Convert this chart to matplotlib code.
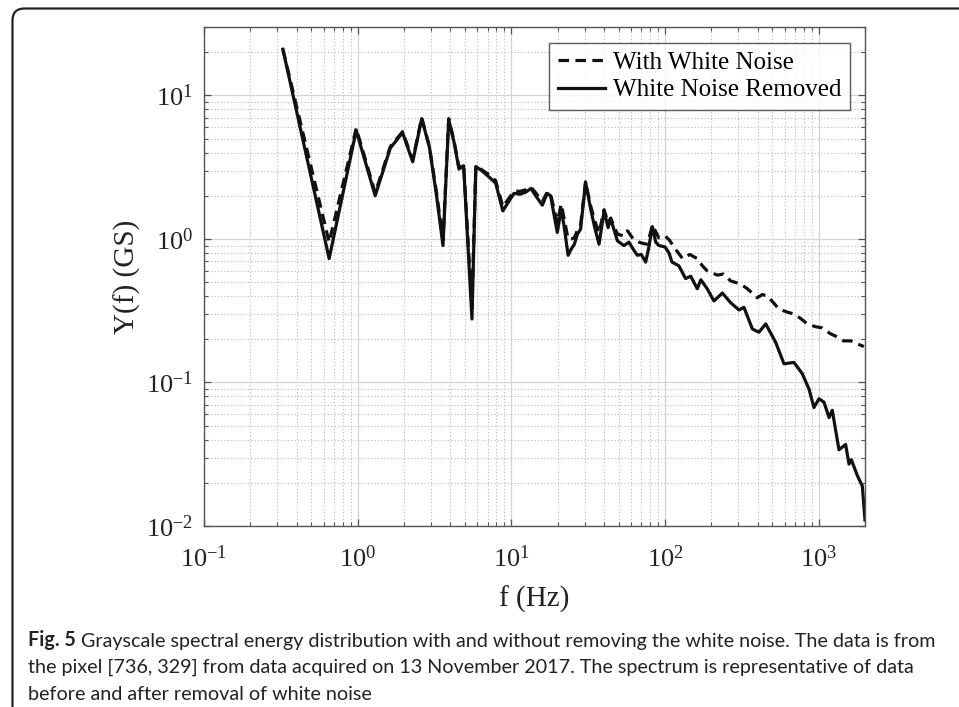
"""
Grayscale spectral energy distribution Y(f), with and without the white noise.
"""

import matplotlib
matplotlib.use("Agg")
import matplotlib.pyplot as plt
import matplotlib.ticker as ticker
from matplotlib.patches import FancyBboxPatch
from matplotlib.transforms import IdentityTransform
import numpy as np

# ── Style ───────────────────────────────────────────────────────────────────
plt.rcParams.update({
    "font.family": "Liberation Serif",
    "mathtext.fontset": "custom",
    "mathtext.rm": "Liberation Serif",
    "mathtext.it": "Liberation Serif:italic",
    "mathtext.bf": "Liberation Serif:bold",
    "axes.linewidth": 1.0,
})

# ── Spectrum, white noise removed (solid) ───────────────────────────────────
f_removed = [0.326, 0.652, 0.978, 1.30, 1.63, 1.96, 2.28, 2.61, 2.93, 3.26,
             3.59, 3.91, 4.24, 4.56, 4.89, 5.54, 5.87, 6.52, 7.17, 7.9,
             8.8, 10.4, 11.4, 12.4, 13.4, 14.4, 15.9, 17.1, 18.0, 19.9,
             21.1, 22.0, 23.4, 24.5, 25.7, 26.9, 28.2, 30.4, 32.8, 34.8,
             37.2, 40.1, 42.6, 44.3, 49, 54, 58.2, 62, 66, 70,
             74.8, 78, 82.7, 87, 91.2, 100, 106, 111, 123, 136,
             147, 162, 171, 188, 208, 236, 267, 303, 326, 370,
             408, 452, 525, 594, 690, 782, 864, 931, 1004, 1081,
             1167, 1225, 1354, 1496, 1574, 1630, 1782, 1921, 2000]
y_removed = [21.0, 0.73, 5.7, 2.0, 4.3, 5.5, 3.45, 6.9, 4.35, 2.0,
             0.90, 6.8, 4.7, 3.07, 3.24, 0.277, 3.2, 2.95, 2.7, 2.45,
             1.57, 2.08, 2.05, 2.12, 2.25, 2.0, 1.72, 2.08, 2.0, 1.11,
             1.62, 1.24, 0.77, 0.85, 0.92, 1.08, 1.17, 2.48, 1.62, 1.21,
             0.92, 1.57, 1.2, 1.38, 0.97, 0.90, 0.95, 0.85, 0.77, 0.78,
             0.69, 0.85, 1.22, 0.95, 0.90, 0.88, 0.80, 0.69, 0.65, 0.53,
             0.55, 0.45, 0.52, 0.45, 0.37, 0.42, 0.36, 0.32, 0.334, 0.236,
             0.224, 0.256, 0.19, 0.135, 0.138, 0.115, 0.090, 0.067, 0.077, 0.073,
             0.057, 0.064, 0.034, 0.037, 0.027, 0.029, 0.0225, 0.019, 0.011]

# ── Spectrum with white noise (dashed) ──────────────────────────────────────
f_noise = [0.326, 0.652, 0.978, 1.30, 1.63, 1.96, 2.28, 2.61, 2.93, 3.26,
           3.59, 3.91, 4.24, 4.56, 4.89, 5.54, 5.87, 6.52, 7.17, 7.9,
           8.8, 10.4, 11.4, 12.4, 13.4, 14.4, 15.9, 17.1, 18.0, 19.9,
           21.1, 22.0, 23.4, 24.5, 25.7, 26.9, 28.2, 30.4, 32.8, 34.8,
           37.2, 40.1, 42.6, 44.3, 49, 54, 57, 62, 67.7, 72,
           77, 82.7, 91, 100, 107, 114, 130, 145, 162, 175,
           188, 219, 240, 267, 310, 343, 398, 430, 465, 551,
           620, 690, 760, 843, 950, 1055, 1180, 1290, 1450, 1614,
           1800, 1967]
y_noise = [21.0, 0.95, 5.9, 2.1, 4.4, 5.6, 3.55, 7.0, 4.4, 2.1,
           0.98, 6.9, 4.8, 3.15, 3.3, 0.33, 3.25, 3.0, 2.8, 2.55,
           1.68, 2.15, 2.15, 2.2, 2.3, 2.1, 1.82, 2.12, 2.05, 1.3,
           1.75, 1.4, 1.0, 1.0, 1.02, 1.15, 1.25, 2.5, 1.7, 1.35,
           1.1, 1.6, 1.3, 1.4, 1.08, 1.05, 1.14, 1.0, 0.95, 0.93,
           0.92, 1.25, 1.02, 1.05, 0.98, 0.88, 0.73, 0.78, 0.73, 0.65,
           0.60, 0.56, 0.57, 0.51, 0.486, 0.45, 0.39, 0.41, 0.40, 0.325,
           0.31, 0.30, 0.28, 0.256, 0.245, 0.24, 0.22, 0.21, 0.195, 0.195,
           0.185, 0.178]

caption_bold = "Fig. 5"
caption_lines = [
    " Grayscale spectral energy distribution with and without removing the white noise. The data is from",
    "the pixel [736, 329] from data acquired on 13 November 2017. The spectrum is representative of data",
    "before and after removal of white noise",
]

W, H = 959, 707
fig = plt.figure(figsize=(W / 100, H / 100), dpi=100)
ax = fig.add_axes([204 / W, 1 - 526 / H, 661 / W, 499 / H])

ax.loglog(f_noise, y_noise, color="#111111", lw=2.3,
          linestyle=(0, (3.3, 2.0)), label="With White Noise")
ax.loglog(f_removed, y_removed, color="#111111", lw=2.3,
          label="White Noise Removed")

ax.set_xlim(0.1, 2000)
ax.set_ylim(0.01, 30)

for axis in (ax.xaxis, ax.yaxis):
    axis.set_major_locator(ticker.LogLocator(base=10, numticks=20))
    axis.set_minor_locator(ticker.LogLocator(base=10, subs=np.arange(2, 10), numticks=200))
    axis.set_minor_formatter(ticker.NullFormatter())

ax.grid(True, which="major", linestyle="-", color="#d4d4d4", lw=0.9)
ax.grid(True, which="minor", linestyle=(0, (1, 2)), color="#b8b8b8", lw=0.8)
ax.set_axisbelow(True)

ax.tick_params(which="both", direction="in", top=True, right=True, colors="#555555",
               labelcolor="#222222")
ax.tick_params(which="major", length=5, width=0.9, labelsize=19)
ax.tick_params(which="minor", length=3, width=0.8)
ax.tick_params(axis="x", which="major", pad=14)
ax.tick_params(axis="y", which="major", pad=8)
for sp in ax.spines.values():
    sp.set_color("#555555")

ax.set_xlabel("f (Hz)", fontsize=21, color="#222222", labelpad=10)
ax.set_ylabel("Y(f) (GS)", fontsize=21, color="#222222", labelpad=3)

leg = ax.legend(loc="upper right", bbox_to_anchor=(0.977, 0.9685), borderaxespad=0,
                fontsize=18, frameon=True, fancybox=False, handlelength=1.9,
                handletextpad=0.3, labelspacing=0.2, borderpad=0.35)
leg.get_frame().set_edgecolor("#333333")
leg.get_frame().set_linewidth(1.0)

# rounded outer frame around figure and caption
frame = FancyBboxPatch((12.5, -30), 1000, H - 8.5 + 30,
                       boxstyle="round,pad=0,rounding_size=12",
                       transform=IdentityTransform(), fill=False,
                       lw=1.6, ec="#222222")
fig.add_artist(frame)

cap_kw = dict(family="Lato", fontsize=14.2, color="#222222")
t_bold = fig.text(28 / W, 1 - 646 / H, caption_bold, weight="bold",
                  va="baseline", **cap_kw)
ax.annotate(caption_lines[0], xy=(1, 0), xycoords=t_bold, va="bottom", ha="left",
            annotation_clip=False, **cap_kw)
fig.text(28 / W, 1 - 673 / H, caption_lines[1], va="baseline", **cap_kw)
fig.text(28 / W, 1 - 699.5 / H, caption_lines[2], va="baseline", **cap_kw)

fig.savefig("out.png", dpi=100)
plt.close(fig)
